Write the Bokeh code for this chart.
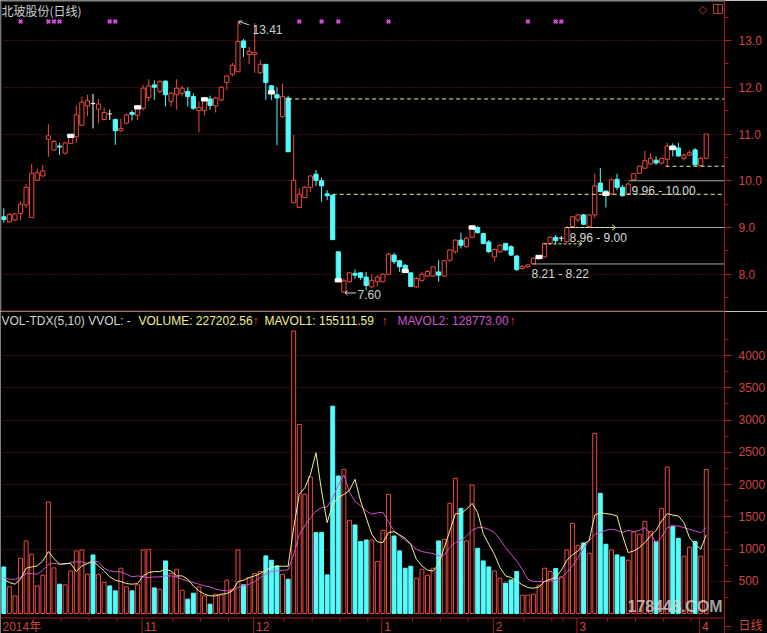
from bokeh.plotting import figure
from bokeh.models import (Range1d, LinearAxis, FixedTicker, Grid, Span,
                          NumeralTickFormatter)
from bokeh.layouts import column
from bokeh.embed import file_html
from bokeh.resources import INLINE
from bokeh.core.properties import value

# ---------------- data ----------------
opens = [9.23, 9.12, 9.16, 9.30, 9.48, 9.21, 10.01, 10.10, 10.89, 10.66,
         10.74, 10.59, 10.80, 10.94, 11.19, 11.60, 11.65, 11.53, 11.31, 11.43,
         11.31, 11.07, 11.23, 11.46, 11.40, 11.55, 11.78, 12.05, 11.91, 12.13,
         11.70, 11.84, 11.87, 11.91, 11.80, 11.50, 11.50, 11.75, 11.60, 11.73,
         12.10, 12.28, 12.33, 12.99, 12.70, 12.70, 12.31, 12.49, 12.03, 11.84,
         11.37, 11.77, 9.53, 9.43, 9.64, 9.86, 10.14, 10.00, 9.72, 9.69,
         8.48, 7.62, 7.84, 8.02, 8.03, 7.94, 7.73, 7.84, 7.84, 8.00,
         8.41, 8.29, 8.19, 8.03, 7.73, 7.87, 7.96, 7.96, 8.05, 7.96,
         8.30, 8.48, 8.73, 8.59, 8.79, 9.00, 8.87, 8.69, 8.37, 8.48,
         8.66, 8.59, 8.39, 8.12, 8.16, 8.22, 8.33, 8.37, 8.66, 8.79,
         8.77, 8.70, 9.02, 9.16, 9.27, 9.02, 9.27, 9.95, 9.78, 9.72,
         10.03, 9.86, 9.72, 10.02, 10.16, 10.27, 10.36, 10.44, 10.38, 10.46,
         10.75, 10.70, 10.48, 10.55, 10.66, 10.32, 10.48]
highs = [9.41, 9.31, 9.31, 9.55, 9.93, 10.36, 10.26, 10.34, 11.21, 10.87,
         10.81, 10.84, 11.00, 11.60, 11.80, 11.84, 11.86, 11.75, 11.57, 11.52,
         11.33, 11.33, 11.44, 11.51, 11.62, 12.05, 12.17, 12.15, 12.15, 12.15,
         11.91, 12.17, 12.03, 12.00, 11.87, 11.70, 11.78, 11.82, 11.80, 12.03,
         12.26, 12.52, 13.41, 13.03, 12.86, 13.37, 12.59, 12.49, 12.05, 12.00,
         12.08, 11.82, 10.98, 9.84, 9.89, 10.12, 10.23, 10.07, 9.80, 9.71,
         8.48, 7.91, 8.05, 8.10, 8.05, 8.05, 8.00, 7.98, 8.02, 8.46,
         8.46, 8.30, 8.22, 8.03, 7.94, 8.05, 8.09, 8.16, 8.30, 8.30,
         8.53, 8.75, 8.89, 8.80, 9.05, 9.03, 8.89, 8.73, 8.55, 8.64,
         8.67, 8.62, 8.41, 8.19, 8.21, 8.36, 8.39, 8.67, 8.80, 8.84,
         8.82, 9.02, 9.25, 9.29, 9.29, 9.27, 10.15, 10.27, 9.79, 10.06,
         10.15, 9.91, 9.96, 10.17, 10.32, 10.64, 10.58, 10.52, 10.48, 10.81,
         10.80, 10.81, 10.58, 10.65, 10.70, 10.51, 11.00]
lows = [9.10, 9.10, 9.14, 9.16, 9.41, 9.21, 9.99, 10.10, 10.51, 10.64,
        10.55, 10.56, 10.78, 10.81, 11.17, 11.38, 11.12, 11.23, 11.29, 11.30,
        10.77, 11.05, 11.21, 11.29, 11.30, 11.50, 11.70, 11.73, 11.87, 11.59,
        11.59, 11.52, 11.80, 11.59, 11.52, 11.03, 11.40, 11.52, 11.46, 11.70,
        11.94, 12.23, 12.33, 12.65, 12.49, 12.31, 12.28, 11.73, 11.73, 10.76,
        11.35, 10.62, 9.53, 9.41, 9.63, 9.76, 9.89, 9.55, 9.59, 8.74,
        7.85, 7.60, 7.82, 7.91, 7.88, 7.66, 7.70, 7.73, 7.83, 8.00,
        8.22, 8.05, 8.03, 7.73, 7.71, 7.84, 7.94, 7.94, 7.84, 7.94,
        8.27, 8.44, 8.55, 8.57, 8.77, 8.87, 8.64, 8.46, 8.27, 8.46,
        8.50, 8.39, 8.07, 8.10, 8.14, 8.22, 8.31, 8.36, 8.64, 8.64,
        8.70, 8.67, 9.00, 9.12, 9.05, 9.00, 9.20, 9.75, 9.43, 9.70,
        9.80, 9.66, 9.70, 10.00, 10.15, 10.25, 10.34, 10.34, 10.34, 10.31,
        10.52, 10.52, 10.43, 10.53, 10.32, 10.31, 10.46]
closes = [9.17, 9.28, 9.29, 9.50, 9.86, 10.16, 10.17, 10.21, 10.96, 10.84,
          10.72, 10.81, 10.96, 11.41, 11.68, 11.71, 11.65, 11.64, 11.46, 11.43,
          11.07, 11.12, 11.41, 11.42, 11.57, 11.98, 12.03, 12.00, 12.12, 11.84,
          11.87, 11.98, 11.98, 11.80, 11.55, 11.57, 11.74, 11.61, 11.77, 12.00,
          12.24, 12.47, 12.98, 12.85, 12.77, 12.74, 12.49, 12.10, 11.89, 11.77,
          11.80, 10.62, 10.01, 9.71, 9.86, 10.10, 10.01, 9.89, 9.68, 8.74,
          7.87, 7.86, 8.03, 7.98, 7.93, 7.76, 7.87, 7.94, 8.00, 8.43,
          8.27, 8.16, 8.07, 7.74, 7.91, 8.00, 8.06, 8.16, 7.98, 8.29,
          8.52, 8.73, 8.62, 8.77, 9.00, 8.89, 8.66, 8.48, 8.53, 8.62,
          8.52, 8.41, 8.10, 8.17, 8.20, 8.34, 8.37, 8.66, 8.79, 8.72,
          8.77, 9.00, 9.23, 9.27, 9.07, 9.27, 9.89, 9.77, 9.72, 10.02,
          9.86, 9.68, 9.93, 10.15, 10.31, 10.43, 10.48, 10.38, 10.48, 10.74,
          10.70, 10.53, 10.55, 10.60, 10.34, 10.48, 11.00]
volumes = [722, 413, 273, 857, 1125, 918, 428, 593, 1729, 707,
           454, 444, 660, 970, 986, 609, 908, 609, 480, 428,
           351, 702, 413, 351, 444, 986, 996, 397, 377, 815,
           624, 686, 361, 222, 315, 413, 273, 144, 299, 289,
           516, 377, 986, 444, 557, 619, 650, 893, 826, 738,
           609, 531, 4380, 2931, 1847, 2116, 1254, 1254, 599, 3215,
           2131, 2234, 1445, 1373, 1115, 1140, 1140, 805, 1290, 1847,
           1202, 970, 702, 733, 547, 686, 593, 702, 1125, 1151,
           1708, 2095, 1631, 1125, 1992, 1011, 815, 722, 660, 547,
           470, 521, 650, 284, 284, 299, 439, 702, 650, 697,
           568, 985, 1398, 1058, 1094, 934, 2792, 1863, 1073, 985,
           908, 877, 826, 1264, 1228, 1429, 1269, 1115, 1631, 2270,
           1357, 1166, 888, 1027, 1115, 888, 2234]
mavol5 = [531, 480, 454, 531, 702, 722, 738, 815, 960, 851,
          764, 774, 774, 650, 738, 774, 815, 738, 660, 568,
          516, 495, 464, 454, 464, 583, 635, 650, 650, 686,
          660, 583, 583, 531, 428, 351, 299, 273, 273, 299,
          310, 351, 495, 516, 557, 583, 619, 671, 712, 733,
          733, 733, 1331, 1847, 1950, 2157, 2492, 1899, 1409, 1692,
          1796, 1847, 1908, 2080, 1744, 1486, 1228, 1110, 1099, 1254,
          1269, 1218, 1166, 1073, 841, 738, 671, 660, 764, 1022,
          1280, 1548, 1548, 1615, 1708, 1563, 1238, 1073, 918, 712,
          583, 557, 506, 444, 402, 392, 413, 495, 531, 557,
          671, 826, 908, 970, 1073, 1135, 1527, 1563, 1548, 1538,
          1512, 1202, 944, 970, 1022, 1099, 1202, 1290, 1434, 1548,
          1527, 1512, 1409, 1176, 1073, 996, 1218]
mavol10 = [557, 531, 531, 557, 619, 619, 609, 671, 764, 779,
           764, 764, 790, 800, 800, 779, 815, 800, 702, 660,
           650, 645, 609, 568, 583, 568, 557, 568, 568, 583,
           583, 568, 531, 506, 480, 454, 428, 413, 377, 361,
           351, 361, 402, 428, 454, 495, 557, 609, 650, 660,
           671, 676, 918, 1228, 1357, 1486, 1589, 1641, 1651, 1796,
           1990, 2150, 1880, 1740, 1667, 1589, 1540, 1560, 1570, 1420,
           1280, 1202, 1135, 1073, 996, 960, 944, 929, 893, 908,
           1022, 1099, 1135, 1202, 1290, 1331, 1331, 1305, 1254, 1151,
           1022, 918, 815, 686, 531, 495, 495, 495, 506, 516,
           557, 635, 738, 867, 1011, 1125, 1228, 1254, 1290, 1305,
           1290, 1254, 1290, 1269, 1290, 1331, 1238, 1099, 1187, 1331,
           1357, 1357, 1331, 1305, 1280, 1254, 1331]
month_start = [25, 45, 68, 88, 103, 125]
month_labels = ["11", "12", "1", "2", "3", "4"]
week_start = [5, 10, 15, 20, 30, 35, 40, 50, 55, 60, 65, 73, 78, 83, 93, 98,
              100, 108, 113, 118, 123]
signal_idx = [3, 8, 9, 10, 19, 20, 53, 57, 60, 69, 94, 99, 100]
cycle_idx = [12, 24, 36, 48, 60, 72, 84, 96, 108, 120]
price_ticks = [8, 9, 10, 11, 12, 13]
vol_ticks = [500, 1000, 1500, 2000, 2500, 3000, 3500, 4000]
gap_lo = [8.21, 8.96, 9.96]
gap_hi = [8.22, 9.00, 10.00]
box_levels = [11.75, 9.71, 10.31]
period_label = "日线"

# ---------------- geometry helpers (pixel -> data) ----------------
X0, DX = 3.3, 5.575
def px_x(px):
    return (px - X0) / DX
def px_p(py):
    return 13 - (py - 40) / 46.75
def px_v(py):
    return (613 - py) / 0.0645

RED = "#ee4a3e"
CYAN = "#54fcfc"
AXC = "#a81c1c"
LBL = "#d04444"
GRIDC = "#7a2222"
YEL = "#f0f090"
MAG = "#d050d0"
FONT = value("'Liberation Sans', 'Noto Sans CJK SC'")
CJK = value("'Noto Sans CJK SC'")

XS, XE = px_x(0), px_x(724)
n = len(opens)
idx = list(range(n))

common = dict(frame_width=724, x_range=Range1d(XS, XE), x_axis_type=None,
              y_axis_type=None, toolbar_location=None, output_backend="svg",
              min_border_left=0, min_border_right=43, min_border_top=0,
              min_border_bottom=0, background_fill_color="black",
              border_fill_color="black", outline_line_color=None)

def style_axis(ax):
    ax.axis_line_color = AXC
    ax.major_tick_line_color = AXC
    ax.minor_tick_line_color = AXC
    ax.major_tick_out = 7
    ax.major_tick_in = 0
    ax.minor_tick_out = 4
    ax.minor_tick_in = 0
    ax.major_label_text_color = LBL
    ax.major_label_text_font = "'Liberation Sans', 'Noto Sans CJK SC'"
    ax.major_label_text_font_size = "12px"
    ax.major_label_standoff = 7

# ================= price panel =================
p = figure(frame_height=311, y_range=Range1d(px_p(311), px_p(0)), **common)

pax = LinearAxis(ticker=FixedTicker(ticks=price_ticks,
                 minor_ticks=[t + 0.5 for t in [7] + price_ticks]),
                 formatter=NumeralTickFormatter(format="0.0"))
style_axis(pax)
p.add_layout(pax, "right")
p.add_layout(Grid(dimension=1, ticker=FixedTicker(ticks=price_ticks),
                  grid_line_color=GRIDC, grid_line_dash="1 2", grid_line_width=1))

up = [i for i in idx if closes[i] > opens[i]]
dn = [i for i in idx if closes[i] < opens[i]]
fl = [i for i in idx if closes[i] == opens[i]]

# up candles: hollow red
p.segment(x0=up, x1=up, y0=[highs[i] for i in up],
          y1=[closes[i] for i in up], line_color=RED, line_width=1)
p.segment(x0=up, x1=up, y0=[lows[i] for i in up],
          y1=[opens[i] for i in up], line_color=RED, line_width=1)
p.vbar(x=up, bottom=[opens[i] for i in up], top=[closes[i] for i in up],
       width=0.75, fill_color="black", line_color=RED, line_width=1)
# down candles: filled cyan
p.segment(x0=dn, x1=dn, y0=[highs[i] for i in dn], y1=[lows[i] for i in dn],
          line_color=CYAN, line_width=1)
p.vbar(x=dn, bottom=[closes[i] for i in dn], top=[opens[i] for i in dn],
       width=0.75, fill_color=CYAN, line_color=CYAN, line_width=1)
# flat candles: white cross
p.segment(x0=fl, x1=fl, y0=[highs[i] for i in fl], y1=[lows[i] for i in fl],
          line_color="white", line_width=1)
p.segment(x0=[i - 0.4 for i in fl], x1=[i + 0.4 for i in fl],
          y0=[opens[i] for i in fl], y1=[opens[i] for i in fl],
          line_color="white", line_width=1)

# white cycle markers at close
p.rect(x=cycle_idx, y=[closes[i] for i in cycle_idx], width=1.1, height=0.07,
       fill_color="white", line_color="white")

# magenta signal markers on top
p.scatter(x=signal_idx, y=[px_p(21)] * len(signal_idx), marker="x",
          size=5, line_color="#d848d8", line_width=2)

# horizontal dashed levels
box_start = [51.0, 59.0, 118.7]
box_col = [YEL, YEL, "#e8e8c8"]
p.segment(x0=box_start, x1=[XE] * 3, y0=box_levels, y1=box_levels,
          line_color=box_col, line_dash="4 3", line_width=1)

# gap lines
gap_start = [94.8, 100.8, 112.1]
p.segment(x0=gap_start, x1=[XE] * 3, y0=gap_hi, y1=gap_hi,
          line_color="#a8a8a8", line_width=1)
gap_txt = ["%.2f - %.2f" % (a, b) for a, b in zip(gap_lo, gap_hi)]
p.text(x=[px_x(531), px_x(569), px_x(631)],
       y=[g - 10.5 / 46.75 for g in gap_hi], text=gap_txt,
       text_font=FONT, text_font_size="12px", text_color="#d8d8d8",
       text_align="left", text_baseline="middle")

# yellow dashed arrows
arr_x0 = [100.8, 96.8]
arr_x1 = [109.7, 103.7]
arr_y = [9.00, 8.65]
p.segment(x0=arr_x0, x1=arr_x1, y0=arr_y, y1=arr_y, line_color=YEL,
          line_dash="3 2", line_width=1)
p.segment(x0=[a - 0.6 for a in arr_x1] * 2, x1=arr_x1 * 2,
          y0=[y + 0.06 for y in arr_y] + [y - 0.06 for y in arr_y],
          y1=arr_y * 2, line_color=YEL, line_width=1)

# high / low annotations
hi_i = highs.index(max(highs))
lo_i = lows.index(min(lows))
hx, hy = hi_i + 0.15, highs[hi_i]
p.segment(x0=[hx, hx, hx], y0=[hy, hy, hy],
          x1=[hx + 1.9, hx + 0.7, hx + 0.25], y1=[hy - 0.08, hy + 0.01, hy - 0.07],
          line_color="#d0d0d0", line_width=1)
p.text(x=[px_x(252)], y=[px_p(28.5)], text=["%.2f" % highs[hi_i]],
       text_font=FONT, text_font_size="12px", text_color="#d0d0d0",
       text_align="left", text_baseline="middle")
lx, ly = lo_i + 0.2, lows[lo_i]
p.segment(x0=[lx, lx, lx], y0=[ly, ly, ly],
          x1=[lx + 2.0, lx + 0.5, lx + 0.5], y1=[ly, ly + 0.05, ly - 0.05],
          line_color="#d0d0d0", line_width=1)
p.text(x=[px_x(357)], y=[px_p(294)], text=["%.2f" % lows[lo_i]],
       text_font=FONT, text_font_size="12px", text_color="#d0d0d0",
       text_align="left", text_baseline="middle")

# title and icons
p.text(x=[px_x(1)], y=[px_p(9.5)], text=["北玻股份(日线)"], text_font=CJK,
       text_font_size="12px", text_color="#cfcfcf", text_align="left",
       text_baseline="middle")
p.text(x=[px_x(698)], y=[px_p(9)], text=["◇"], text_font=value("DejaVu Sans"),
       text_font_size="11px", text_color="#c03c3c", text_align="left",
       text_baseline="middle")
p.quad(left=[px_x(713)], right=[px_x(722)], top=[px_p(4)], bottom=[px_p(13)],
       fill_color=None, line_color="#c03c3c")
p.segment(x0=[px_x(717.5)], x1=[px_x(717.5)], y0=[px_p(4)], y1=[px_p(13)],
          line_color="#c03c3c")

p.add_layout(Span(location=px_p(0.5), dimension="width", line_color="#8c8c8c",
                  line_width=1))
p.add_layout(Span(location=px_x(0.5), dimension="height", line_color="#5a5a5a",
                  line_width=1))
p.add_layout(Span(location=px_p(310.5), dimension="width", line_color=AXC,
                  line_width=1))

# ================= volume panel =================
q = figure(frame_height=322, y_range=Range1d(px_v(633), px_v(311)), **common)
# the period label sits in the axis column below the date line
vax = LinearAxis(ticker=FixedTicker(ticks=[-200] + vol_ticks,
                 minor_ticks=[t - 250 for t in vol_ticks] + [4250]),
                 formatter=NumeralTickFormatter(format="0"),
                 major_label_overrides={-200: period_label})
style_axis(vax)
q.add_layout(vax, "right")
q.add_layout(Grid(dimension=1, ticker=FixedTicker(ticks=vol_ticks),
                  grid_line_color=GRIDC, grid_line_dash="1 2", grid_line_width=1))

def is_up(i):
    if closes[i] != opens[i]:
        return closes[i] > opens[i]
    return i == 0 or closes[i] >= closes[i - 1]

vu = [i for i in idx if is_up(i)]
vd = [i for i in idx if not is_up(i)]
q.vbar(x=vu, top=[volumes[i] for i in vu], bottom=0, width=0.7,
       fill_color="black", line_color=RED, line_width=1)
q.vbar(x=vd, top=[volumes[i] for i in vd], bottom=0, width=0.7,
       fill_color=CYAN, line_color=CYAN, line_width=1)
q.line(x=idx, y=mavol10, line_color=MAG, line_width=1)
q.line(x=idx, y=mavol5, line_color=YEL, line_width=1)

# header
hx_ = [1, 138, 252, 264, 381, 397, 509]
htxt = ["VOL-TDX(5,10)  VVOL: -", "VOLUME: 227202.56", "↑",
        "MAVOL1: 155111.59", "↑", "MAVOL2: 128773.00", "↑"]
hcol = ["#d6d6d6", YEL, RED, YEL, RED, MAG, RED]
q.text(x=[px_x(v) for v in hx_], y=[px_v(320)] * len(hx_), text=htxt,
       text_color=hcol, text_font=FONT, text_font_size="12px",
       text_align="left", text_baseline="middle")

# date axis
q.add_layout(Span(location=px_v(617.5), dimension="width", line_color=AXC,
                  line_width=1))
q.segment(x0=[m - 0.2 for m in month_start], x1=[m - 0.2 for m in month_start],
          y0=[px_v(618)] * 6, y1=[px_v(633)] * 6, line_color=AXC)
q.segment(x0=[w + 0.3 for w in week_start], x1=[w + 0.3 for w in week_start],
          y0=[px_v(618)] * len(week_start), y1=[px_v(621)] * len(week_start),
          line_color=AXC)
q.text(x=[px_x(2)] + [m + 0.25 for m in month_start],
       y=[px_v(626)] * 7, text=["2014年"] + month_labels,
       text_font=FONT, text_font_size="12px", text_color=LBL,
       text_align="left", text_baseline="middle")

# watermark (kept inside the plotting area)
q.text(x=[px_x(627)], y=[px_v(606)], text=["178448.COM"],
       text_font=value("Liberation Sans"), text_font_style="bold",
       text_font_size="16px", text_color="#d8d8d8", text_alpha=0.75,
       text_baseline="middle", text_align="left")

layout = column(p, q, spacing=0)
open("out.html", "w").write(file_html(layout, INLINE))
